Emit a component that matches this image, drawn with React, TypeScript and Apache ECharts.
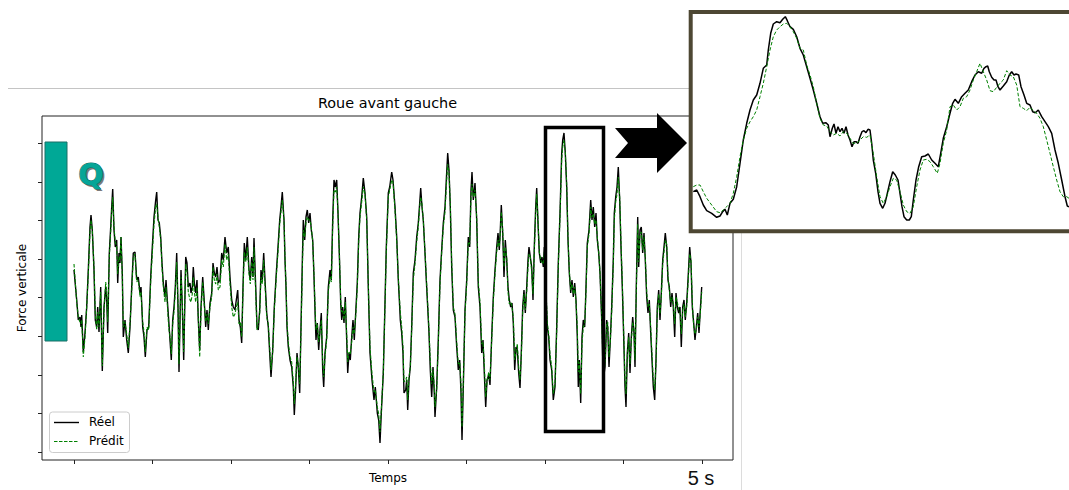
import React, { useEffect, useRef } from "react";
import * as echarts from "echarts";

// ---------- DATA (sample index, force in arbitrary units) ----------
const TITLE = "Roue avant gauche";
const X_LABEL = "Temps";
const Y_LABEL = "Force verticale";
const LEGEND = ["Réel", "Prédit"];
const DURATION_LABEL = "5 s";

// tick positions (no labels shown)
const X_TICKS = [0, 78.5, 157, 235.5, 314, 392.5, 471, 549.5, 628];
const Y_TICKS = [0, 38.6, 77.2, 115.8, 154.4, 193, 231.6, 270.2, 308.8];

const REEL: number[][] = [
[0,182],[2.7,152],[4.3,132],[6,135],[7,125],[7.7,137],[9.3,100],[11,119],[12.7,145],[14.3,182],[16,225],[17,237],[18.3,222],[20,182],[21.3,132],[22.7,125],[23.7,145],[25,120],[26.7,165],[28.3,81],[30,145],[31.7,165],[32.7,152],[33.7,119],[35.3,199],[36.7,225],[37.7,245],[38.7,263],[40,222],[41.3,205],[42.7,212],[43.7,169],[45,199],[46,189],[47,215],[48.3,179],[49.3,115],[51,132],[52.7,112],[54.3,99],[56,125],[57.7,165],[59.3,199],[61,200],[62.7,172],[64.3,175],[66,159],[67,165],[68.7,125],[70,115],[71.3,95],[73,122],[74.7,125],[76.7,175],[78.3,205],[80,235],[81.7,252],[82.7,260],[84,232],[85.3,229],[86.7,215],[88,189],[89.3,169],[91,155],[92,172],[93.3,152],[94.7,132],[96,112],[97.3,92],[98.7,132],[100,145],[101.3,165],[102.7,199],[104,145],[105,80],
[107,182],[108.3,145],[109.7,92],[111.7,195],[113,189],[114.3,165],[116,169],[117,159],[118.3,165],[119.3,185],[120.3,169],[121.7,159],[123,172],[124.3,132],[125.7,102],[127,145],[128.7,175],[130,155],[131.7,125],[133,142],[134.3,122],[136,149],[137.7,159],[139,189],[140.3,179],[141.7,175],[143,185],[144.3,169],[146,172],[147.7,199],[149.3,192],[151,215],[152.7,199],[154.3,205],[156,175],[157.7,152],[159.3,145],[161,142],[162.3,152],[163.7,162],[165,132],[166.3,125],[167.7,109],[169,165],[170.3,209],[171.7,192],[173.3,215],[175,182],[176.3,172],[177.7,195],[179,175],[180,214],[181.7,165],[183,125],[184.3,122],[185.7,142],[187,182],[188.3,172],[189.7,199],[191,172],[192.7,139],[194.3,125],[195.7,99],[197,75],[198.7,102],[200.3,145],[202.3,179],[204,205],[205.7,232],[207,245],[208.3,260],
[210,232],[211,192],[212,165],[213,125],[214.3,105],[216,92],[217.7,85],[219.3,65],[220.3,37],[221.7,65],[223,99],[224.3,85],[225.7,59],[227,125],[228.3,189],[229.3,232],[230.7,212],[232,235],[233.3,242],[234.7,229],[236,239],[237.3,222],[238.7,212],[240,175],[241.3,132],[242,112],[243.3,129],[244.7,102],[246,122],[247.3,139],[248.7,82],[249.7,65],[251,99],[252.7,115],[254.3,165],[256,182],[257.3,172],[258.7,232],[260,272],[261.3,265],[262.7,272],[264,239],[265.3,199],[266.7,149],[267.7,132],[268.7,145],[270,129],[271.3,155],[272.7,112],[273.7,79],[275,99],[276.3,92],[277.7,115],[279,132],[280.3,112],[282,145],[283.3,169],[284.7,215],[286,239],[287.7,255],[289.3,274],[291,259],[292.7,235],[294.3,165],[296,99],[298,72],[300,52],[301.3,65],[303.3,39],[304.7,32],[306,9],[307.3,39],[309.3,79],
[311.3,162],[312.3,205],[314.3,259],[315.7,265],[317.7,280],[319,272],[321,245],[322.7,215],[324.3,172],[325.7,145],[326.3,132],[327.7,119],[329,99],[330,59],[331.7,62],[332.7,72],[333.7,42],[335,72],[336.3,85],[337.7,125],[339.3,179],[341,192],[342.7,215],[344.3,229],[345.7,249],[346.7,264],[348,245],[349.3,232],[351,199],[352.3,172],[353.7,145],[355,119],[356.3,82],[357.7,55],[359,85],[360.3,59],[361,35],[362.7,65],[364.3,112],[366,172],[367.7,202],[369.3,229],[371,245],[372.3,272],[373.7,299],[375,282],[376.3,245],[377.7,185],[379.3,142],[381,135],[382.7,105],[384.3,82],[385.7,92],[387,59],[388,12],[389.3,65],[391,142],[392.7,172],[394.3,215],[395.7,205],[397,262],[398,280],[399.3,252],[401,269],[402.7,232],[404.3,165],[406,145],[407.7,99],[409,112],[410.3,79],[411.7,45],[413,72],[414.7,77],[416,67],
[417.7,115],[419.3,155],[421,182],[422.7,205],[424,219],[425.3,202],[426.3,222],[427.3,247],[428.7,219],[430,175],[431.3,212],[432.7,192],[434,165],[435.3,152],[436.7,145],[438,149],[439.3,129],[440.7,82],[442,105],[443.3,102],[444.7,79],[446,64],[447.3,99],[448.7,145],[450,162],[451.3,139],[452.7,165],[454,192],[455,205],[456.3,195],[457.7,185],[459,152],[460.3,205],[461.7,245],[462.7,264],[464,229],[465.3,199],[466.7,189],[468,195],[469.3,185],[470.3,205],[471.7,165],[473.3,125],[474.7,115],[476,92],[477.7,82],[479.3,52],[481,65],[482.7,125],[484.3,189],[486,239],[487.7,299],[488.7,312],[490,319],[491.3,299],[492.7,265],[494,212],[495.3,179],[496.7,159],[498,172],[499.3,155],[500.7,169],[502,152],[503.3,115],[504.3,65],[505.3,92],[506.7,49],[508,115],[509.3,132],[510.7,125],[512,165],[513.3,209],[515,222],[516.7,252],[518,232],[519.3,245],[520.7,225],[522,239],[523.3,212],[524.7,199],
[526,179],[527.7,132],[529.3,72],[531,85],[532.7,132],[533.7,125],[535,85],[536.3,112],[537.7,145],[539.3,192],[540.3,239],[541.7,255],[543,265],[544.3,285],[545.7,252],[547,205],[548.3,165],[549.7,115],[551,65],[552,45],[553.3,99],[554.7,119],[556,79],[557.3,115],[558.7,135],[560,119],[561,85],[562.3,165],[563.7,235],[564.7,185],[566,222],[567.3,225],[568.7,199],[570,219],[571.3,192],[572.7,155],[574,139],[575.3,152],[576.7,119],[578,92],[579.3,65],[580.7,52],[582,92],[583.3,145],[584.7,162],[586,132],[587.3,159],[588.7,192],[590,205],[591.3,219],[592.7,205],[594,172],[595.3,165],[596.7,145],[598,159],[599.3,145],[600.7,115],[602,159],[603.3,145],[604.7,139],[606,145],[607.3,105],[608.7,145],[610,152],[611.3,132],[612.7,149],[614,172],[615.7,205],[617,189],[618.3,145],[619.7,129],[621,112],[622.3,125],[623.7,139],[625,119],[626.3,142],[627.7,165]
];

const PREDIT: number[][] = [
[0,188],[2.7,150],[4.3,135],[6,130],[7,128],[7.7,132],[9.3,95],[11,115],[12.7,145],[14.3,178],[16,220],[17,232],[18.3,222],[20,185],[21.3,138],[22.7,122],[23.7,140],[25,125],[26.7,160],[28.3,86],[30,140],[31.7,170],[32.7,160],[33.7,130],[35.3,195],[36.7,220],[37.7,240],[38.7,255],[40,225],[41.3,210],[42.7,205],[43.7,178],[45,195],[46,192],[47,215],[48.3,175],[49.3,125],[51,130],[52.7,118],[54.3,104],[56,128],[57.7,160],[59.3,195],[61,198],[62.7,170],[64.3,172],[66,155],[67,160],[68.7,130],[70,120],[71.3,100],[73,125],[74.7,122],[76.7,170],[78.3,198],[80,228],[81.7,245],[82.7,248],[84,235],[85.3,225],[86.7,212],[88,185],[89.3,165],[91,150],[92,165],[93.3,148],[94.7,125],[96,115],[97.3,98],[98.7,128],[100,140],[101.3,160],[102.7,190],[104,150],[105,88],
[107,175],[108.3,150],[109.7,100],[111.7,188],[113,180],[114.3,160],[116,152],[117,150],[118.3,158],[119.3,175],[120.3,160],[121.7,150],[123,165],[124.3,135],[125.7,95],[127,140],[128.7,170],[130,150],[131.7,130],[133,138],[134.3,128],[136,145],[137.7,155],[139,185],[140.3,172],[141.7,168],[143,178],[144.3,162],[146,165],[147.7,192],[149.3,185],[151,208],[152.7,192],[154.3,198],[156,168],[157.7,145],[159.3,135],[161,138],[162.3,145],[163.7,150],[165,128],[166.3,130],[167.7,115],[169,160],[170.3,200],[171.7,190],[173.3,205],[175,178],[176.3,168],[177.7,190],[179,172],[180,205],[181.7,160],[183,122],[184.3,128],[185.7,138],[187,175],[188.3,168],[189.7,192],[191,168],[192.7,135],[194.3,128],[195.7,105],[197,82],[198.7,100],[200.3,142],[202.3,175],[204,200],[205.7,228],[207,240],[208.3,252],
[210,232],[211,195],[212,168],[213,130],[214.3,110],[216,95],[217.7,90],[219.3,70],[220.3,48],[221.7,70],[223,95],[224.3,88],[225.7,68],[227,120],[228.3,180],[229.3,222],[230.7,215],[232,230],[233.3,235],[234.7,232],[236,232],[237.3,225],[238.7,210],[240,178],[241.3,138],[242,122],[243.3,128],[244.7,110],[246,120],[247.3,132],[248.7,92],[249.7,75],[251,95],[252.7,112],[254.3,160],[256,175],[257.3,170],[258.7,225],[260,262],[261.3,260],[262.7,265],[264,240],[265.3,200],[266.7,152],[267.7,140],[268.7,142],[270,132],[271.3,150],[272.7,118],[273.7,90],[275,100],[276.3,98],[277.7,110],[279,125],[280.3,118],[282,140],[283.3,165],[284.7,210],[286,235],[287.7,250],[289.3,265],[291,258],[292.7,232],[294.3,168],[296,105],[298,78],[300,60],[301.3,62],[303.3,45],[304.7,38],[306,20],[307.3,42],[309.3,80],
[311.3,158],[312.3,200],[314.3,255],[315.7,262],[317.7,272],[319,270],[321,242],[322.7,212],[324.3,175],[325.7,150],[326.3,140],[327.7,125],[329,105],[330,70],[331.7,72],[332.7,75],[333.7,52],[335,75],[336.3,85],[337.7,122],[339.3,172],[341,188],[342.7,210],[344.3,225],[345.7,245],[346.7,255],[348,248],[349.3,232],[351,200],[352.3,175],[353.7,148],[355,122],[356.3,90],[357.7,68],[359,82],[360.3,65],[361,45],[362.7,62],[364.3,108],[366,168],[367.7,200],[369.3,225],[371,240],[372.3,265],[373.7,288],[375,280],[376.3,248],[377.7,190],[379.3,145],[381,138],[382.7,110],[384.3,88],[385.7,90],[387,68],[388,25],[389.3,68],[391,138],[392.7,168],[394.3,210],[395.7,208],[397,255],[398,268],[399.3,255],[401,262],[402.7,235],[404.3,170],[406,150],[407.7,108],[409,110],[410.3,88],[411.7,55],[413,70],[414.7,80],[416,72],
[417.7,112],[419.3,150],[421,178],[422.7,200],[424,212],[425.3,205],[426.3,218],[427.3,240],[428.7,222],[430,185],[431.3,205],[432.7,195],[434,160],[435.3,148],[436.7,150],[438,145],[439.3,135],[440.7,92],[442,100],[443.3,108],[444.7,85],[446,72],[447.3,95],[448.7,140],[450,158],[451.3,142],[452.7,160],[454,185],[455,198],[456.3,195],[457.7,180],[459,158],[460.3,200],[461.7,240],[462.7,258],[464,232],[465.3,200],[466.7,192],[468,190],[469.3,188],[470.3,200],[471.7,170],[473.3,130],[474.7,118],[476,98],[477.7,85],[479.3,58],[481,68],[482.7,120],[484.3,185],[486,235],[487.7,292],[488.7,305],[490,312],[491.3,300],[492.7,268],[494,215],[495.3,182],[496.7,162],[498,168],[499.3,158],[500.7,165],[502,150],[503.3,125],[504.3,80],[505.3,90],[506.7,58],[508,108],[509.3,125],[510.7,128],[512,160],[513.3,205],[515,218],[516.7,245],[518,235],[519.3,238],[520.7,228],[522,232],[523.3,215],[524.7,200],
[526,180],[527.7,135],[529.3,78],[531,88],[532.7,128],[533.7,130],[535,95],[536.3,110],[537.7,140],[539.3,188],[540.3,232],[541.7,250],[543,258],[544.3,275],[545.7,255],[547,210],[548.3,170],[549.7,120],[551,72],[552,58],[553.3,95],[554.7,115],[556,88],[557.3,110],[558.7,130],[560,122],[561,92],[562.3,160],[563.7,228],[564.7,190],[566,218],[567.3,220],[568.7,202],[570,215],[571.3,195],[572.7,160],[574,145],[575.3,148],[576.7,125],[578,98],[579.3,72],[580.7,62],[582,88],[583.3,140],[584.7,158],[586,138],[587.3,155],[588.7,188],[590,200],[591.3,212],[592.7,208],[594,175],[595.3,162],[596.7,150],[598,155],[599.3,148],[600.7,128],[602,155],[603.3,150],[604.7,142],[606,140],[607.3,118],[608.7,142],[610,148],[611.3,135],[612.7,145],[614,168],[615.7,198],[617,192],[618.3,150],[619.7,125],[621,118],[622.3,122],[623.7,135],[625,125],[626.3,138],[627.7,160]
];

// zoomed excerpt shown in the inset (finer sampling, own units)
const ZOOM_REEL: number[][] = [
[1.3,37.3],[4.7,39],[8,32.3],[11.3,24],[14.7,18.3],[19.7,15.7],[24.7,11.7],[28,13],[30.7,17.3],[33,19.7],[35.3,14],[38,25.7],[41.3,29.7],[44.7,42.3],[48,65.7],[51.3,89],[54.7,105.7],[58,119],[61.3,129],[64.7,134],[68,145.7],[71.3,160.7],[74.7,164],[76.3,179],[78.7,195.7],[81.3,205],[84.7,207.3],[88,206.3],[90.7,209.7],[93.3,212.3],[95.3,208.3],[98,202.3],[101.3,199.7],[104.7,192.3],[108,180.7],[111.3,174],[114.7,162.3],[118,150.7],[121.3,139],[124.7,125.7],[128,112.3],[130.7,105.7],[134,106.3],[136.3,104],[138,92.3],[140.3,100.7],[142,105],[144,95.7],[146,102.3],[148,97.3],[150,100.7],[152,95.7],[154,102.3],[156,94],[158,89],[160,82.3],[162,87.3],[164,87.3],[166,85.7],[168,92.3],[170,97.3],[172,98.3],[174,96.3],[176,99.7],[178,99],[179.7,85.7],[181.3,69],[183.7,55.7],[186,37.3],[188,25.7],[190.7,20.7],[193,25.7],[195.3,35.7],[198,47.3],[200.7,57.3],[203.3,54],[206,49],[208,35.7],[210,22.3],[212,12.3],[214.7,9],[217.3,9],[219.3,12.3],[221.3,29],[224,49],[226.7,62.3],[229.7,72.3],[233,73],[236.3,75],[239.7,69],[243,65.7],[246.3,62.3],[248.7,75.7],[251.3,90.7],[254.7,102.3],[258,115.7],[260.7,125.7],[263,129.7],[266.3,125.7],[269.7,132.3],[273,135.7],[276.3,139],[279.7,147.3],[283,154],[286.3,157.3],[289.7,155.7],[292,160.7],[294,162.3],[295.7,163],[297.3,157.3],[299.7,151.7],[302,149],[304,149],[306,142.3],[308,139],[311.3,143],[314.7,147.3],[317.3,154],[319.7,157.3],[322,154],[324,155],[326.7,154],[329,142.3],[332,134],[334.7,125.7],[338,124],[340.7,117.3],[343.3,116.3],[346.3,119],[349.7,112.3],[353,107.3],[356.3,102.3],[359.7,95.7],[363,79],[366.3,65.7],[369.7,49],[373,32.3],[375.3,23],[377,22.3]
];

const ZOOM_PREDIT: number[][] = [
[1.3,42.3],[4.7,44],[8,44],[11.3,37.3],[14.7,30.7],[19.7,24],[24.7,17.3],[28,16.3],[31.3,19],[34.7,22.3],[38,25.7],[41.3,35.7],[44.7,52.3],[48,72.3],[51.3,89],[54.7,100.7],[58,107.3],[61.3,112.3],[64.7,119],[68,132.3],[71.3,145.7],[74.7,162.3],[78,179],[81.3,192.3],[84.7,199],[88,202.3],[91.3,205],[94.7,205.7],[98,202.3],[101.3,197.3],[104.7,190.7],[108,180.7],[111.3,179],[114.7,164],[118,154],[121.3,142.3],[124.7,125.7],[128,110.7],[131.3,104],[134.7,103],[138,97.3],[141.3,94],[144.7,95.7],[148,93],[151.3,97.3],[154.7,95.7],[158,90.7],[161.3,85.7],[164.7,85.7],[168,89],[171.3,92.3],[174.7,91.7],[178,94],[181.3,75.7],[184.7,52.3],[188,32.3],[191.3,25.7],[194.7,32.3],[198,42.3],[201.3,50.7],[204.7,49],[208,37.3],[211.3,24],[214.7,17.3],[218,15.7],[221.3,22.3],[224.7,42.3],[228,59],[231.3,69],[234.7,69.7],[238,67.3],[241.3,62.3],[245.3,55.7],[248,65.7],[251.3,85.7],[254.7,99],[258,122.3],[261.3,124],[264.7,119],[268,122.3],[271.3,130.7],[274.7,132.3],[278,139],[281.3,149],[284.7,157.3],[288,165.7],[291.3,157.3],[294.7,149],[298,138.3],[301.3,137.3],[304.7,141.7],[308,145.7],[311.3,149],[314.7,158.3],[318,154],[321.3,152.3],[324.7,144],[328,122.3],[331.3,120.7],[334.7,118.3],[338,121.7],[341.3,118.3],[344.7,115.7],[348,110.7],[351.3,102.3],[354.7,89],[358,75.7],[361.3,62.3],[364.7,49],[368,37.3],[371.3,32.3],[374.7,32.3],[377,30.7]
];

const FONT = '"DejaVu Sans", sans-serif';

export default function App() {
  const ref = useRef<HTMLDivElement>(null);
  useEffect(() => {
    if (!ref.current) return;
    const chart = echarts.init(ref.current, undefined, { renderer: "svg" });
    const txt = (text: string, x: number, y: number, font: string, extra: any = {}) => ({
      type: "text",
      x,
      y,
      z: extra.z ?? 40,
      rotation: extra.rotation ?? 0,
      style: {
        text,
        x: 0,
        y: 0,
        font,
        fill: extra.fill ?? "#000",
        stroke: extra.stroke,
        lineWidth: extra.lineWidth ?? 0,
        align: extra.align ?? "center",
        verticalAlign: "middle",
        textAlign: extra.align ?? "center",
        textVerticalAlign: "middle",
      },
    });
    chart.setOption({
      animation: false,
      backgroundColor: "#fff",
      grid: [
        { left: 42, top: 116, width: 691, height: 344, show: true, borderColor: "#222", borderWidth: 1, backgroundColor: "transparent" },
        { left: 692, top: 14, width: 377, height: 215, show: false },
      ],
      xAxis: [
        {
          gridIndex: 0, type: "value", min: -32, max: 659, position: "bottom",
          axisLine: { show: false, onZero: false },
          axisTick: { show: true, customValues: X_TICKS, length: 4, lineStyle: { color: "#222", width: 1 } },
          axisLabel: { show: false }, splitLine: { show: false },
        },
        { gridIndex: 1, type: "value", min: 0, max: 377, show: false },
      ],
      yAxis: [
        {
          gridIndex: 0, type: "value", min: -8, max: 336, position: "left",
          axisLine: { show: false, onZero: false },
          axisTick: { show: true, customValues: Y_TICKS, length: 4, lineStyle: { color: "#222", width: 1 } },
          axisLabel: { show: false }, splitLine: { show: false },
        },
        { gridIndex: 1, type: "value", min: 0, max: 215, show: false },
      ],
      series: [
        {
          type: "line", name: LEGEND[0], xAxisIndex: 0, yAxisIndex: 0, data: REEL,
          symbol: "none", lineStyle: { color: "#000", width: 1.4 }, z: 2,
        },
        {
          type: "line", name: LEGEND[1], xAxisIndex: 0, yAxisIndex: 0, data: PREDIT,
          symbol: "none", lineStyle: { color: "#008000", width: 1.1, type: [3.5, 1.5] }, z: 3,
        },
        {
          type: "line", xAxisIndex: 1, yAxisIndex: 1, data: ZOOM_REEL,
          symbol: "none", lineStyle: { color: "#000", width: 1.5 }, z: 60,
        },
        {
          type: "line", xAxisIndex: 1, yAxisIndex: 1, data: ZOOM_PREDIT,
          symbol: "none", lineStyle: { color: "#008000", width: 1, type: [3.5, 2] }, z: 61,
        },
      ],
      graphic: [
        { type: "line", z: 1, shape: { x1: 8, y1: 88.5, x2: 690, y2: 88.5 }, style: { stroke: "#c4c4c4", lineWidth: 1 } },
        { type: "line", z: 1, shape: { x1: 741.5, y1: 232, x2: 741.5, y2: 490 }, style: { stroke: "#dcdcdc", lineWidth: 1 } },
        txt(TITLE, 387.5, 103, `14.4px ${FONT}`),
        txt(X_LABEL, 388, 478, `12px ${FONT}`),
        txt(Y_LABEL, 22, 288, `12px ${FONT}`, { rotation: Math.PI / 2 }),
        txt(DURATION_LABEL, 701, 478, '20px "Liberation Sans", Arial, sans-serif', { fill: "#111" }),
        // teal marker and Q
        { type: "rect", z: 20, shape: { x: 45, y: 142, width: 22, height: 199 }, style: { fill: "#00a896", stroke: "#1b6f66", lineWidth: 1 } },
        txt("Q", 93, 176, `bold 30px ${FONT}`, { fill: "#7a7a7a", z: 20 }),
        txt("Q", 91, 174, `bold 30px ${FONT}`, { fill: "#06a597", stroke: "#0e6c64", lineWidth: 1, z: 21 }),
        // highlight box and arrow
        { type: "rect", z: 30, shape: { x: 545.5, y: 127.5, width: 58, height: 304 }, style: { fill: "none", stroke: "#000", lineWidth: 3.5 } },
        {
          type: "polygon", z: 30,
          shape: { points: [[615, 128], [657, 128], [657, 113], [687, 143], [657, 173], [657, 158], [615, 158], [628, 143]] },
          style: { fill: "#000" },
        },
        // legend
        { type: "rect", z: 30, shape: { x: 49.5, y: 412, width: 80, height: 40.5, r: 3 }, style: { fill: "rgba(255,255,255,0.85)", stroke: "#cccccc", lineWidth: 1 } },
        { type: "line", z: 31, shape: { x1: 54, y1: 422.5, x2: 79, y2: 422.5 }, style: { stroke: "#000", lineWidth: 1.4 } },
        { type: "line", z: 31, shape: { x1: 54, y1: 441.5, x2: 79, y2: 441.5 }, style: { stroke: "#008000", lineWidth: 1, lineDash: [3.5, 1.5] } },
        txt(LEGEND[0], 89, 422, `12px ${FONT}`, { align: "left", z: 31 }),
        txt(LEGEND[1], 89, 441, `12px ${FONT}`, { align: "left", z: 31 }),
        // inset frame
        { type: "rect", z: 50, shape: { x: 690.7, y: 12, width: 382, height: 219.3 }, style: { fill: "#fff", stroke: "none" } },
        { type: "rect", z: 70, shape: { x: 690.7, y: 12, width: 382, height: 219.3 }, style: { fill: "none", stroke: "#4d4733", lineWidth: 4 } },
      ],
    });
    return () => chart.dispose();
  }, []);
  return <div ref={ref} style={{ position: "fixed", left: 0, top: 0, width: 1069, height: 490 }} />;
}
